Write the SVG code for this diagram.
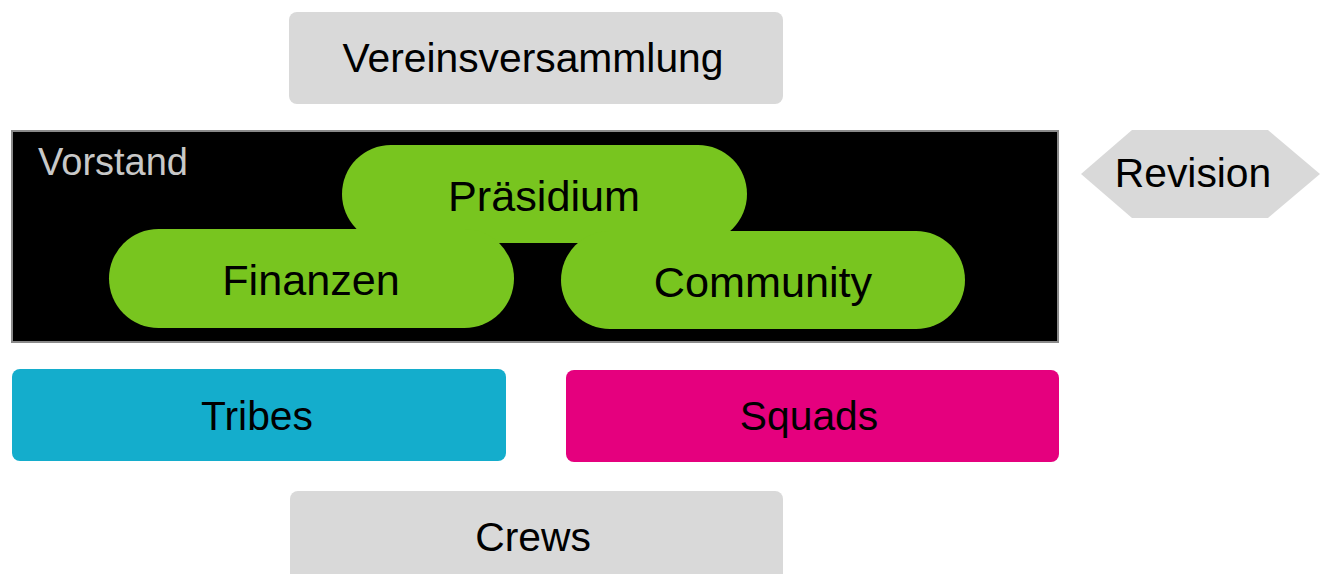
<svg xmlns="http://www.w3.org/2000/svg" width="1321" height="574" viewBox="0 0 1321 574">
<style>
text{font-family:"Liberation Sans",Arial,Helvetica,sans-serif;font-size:40.8px;fill:#000;text-anchor:middle}
.big{font-size:43.2px}
.gray{fill:#d9d9d9}
.green{fill:#78c51f}
</style>
<rect width="1321" height="574" fill="#fff"/>
<g id="vereinsversammlung">
<rect class="gray" x="289" y="12" width="494" height="92" rx="8"/>
<text x="533" y="72">Vereinsversammlung</text>
</g>
<g id="vorstand">
<rect x="12" y="131" width="1046" height="211" fill="#000" stroke="#8a8a8a" stroke-width="2"/>
<text x="38" y="175" style="text-anchor:start;font-size:38px;fill:#c8c8c8">Vorstand</text>
</g>
<g id="praesidium">
<rect class="green" x="342" y="145" width="405" height="98" rx="49"/>
<text class="big" x="544" y="211">Präsidium</text>
</g>
<g id="finanzen">
<rect class="green" x="109" y="229" width="405" height="99" rx="49.5"/>
<text class="big" x="311" y="295">Finanzen</text>
</g>
<g id="community">
<rect class="green" x="561" y="231" width="404" height="98" rx="49"/>
<text class="big" x="763" y="297">Community</text>
</g>
<g id="revision">
<polygon class="gray" points="1081,174 1132,130 1268,130 1320,174 1268,218 1132,218"/>
<text x="1193" y="187">Revision</text>
</g>
<g id="tribes">
<rect x="12" y="369" width="494" height="92" rx="8" fill="#14adcc"/>
<text x="257" y="430">Tribes</text>
</g>
<g id="squads">
<rect x="566" y="370" width="493" height="92" rx="8" fill="#e5007e"/>
<text x="809" y="430">Squads</text>
</g>
<g id="crews">
<rect class="gray" x="290" y="491" width="493" height="100" rx="8"/>
<text x="533" y="551">Crews</text>
</g>
<g id="connectors"></g>
</svg>
